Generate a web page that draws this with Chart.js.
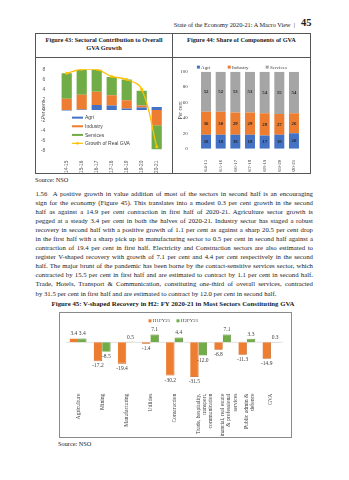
<!DOCTYPE html>
<html><head><meta charset="utf-8">
<script src="https://cdn.jsdelivr.net/npm/chart.js@4.4.0/dist/chart.umd.min.js"></script>
<style>
html,body{margin:0;padding:0;background:#fff;}
body{width:349px;height:480px;position:relative;overflow:hidden;font-family:"Liberation Serif","Times New Roman",serif;color:#1a1a1a;}
.abs{position:absolute;}
#hdr{left:120px;top:20.5px;width:175px;text-align:right;font-size:6.3px;white-space:nowrap;}
#pg{left:301px;top:17px;font-size:10.5px;font-weight:bold;}
#tbl{left:35px;top:33px;width:274px;height:139px;border:0.8px solid #555;}
#hline{left:35px;top:57px;width:275px;height:0;border-top:0.8px solid #555;}
#vline{left:172px;top:33px;width:0;height:140px;border-left:0.8px solid #555;}
.th{font-size:6.3px;font-weight:bold;text-align:center;line-height:8.5px;}
#t43{left:36px;top:35.5px;width:136px;}
#t44{left:173px;top:35.5px;width:137px;}
#c43w{left:36px;top:58px;width:136px;height:115px;}
#c44w{left:173px;top:58px;width:136px;height:114px;}
.src{font-size:6.3px;}
#para{left:35.5px;top:188.5px;width:277.5px;font-size:6.75px;line-height:9.1px;}
#para div{text-align:justify;text-align-last:justify;}
#para div.last{text-align-last:left;}
#t45{left:40px;top:300px;width:266px;text-align:center;font-size:6.8px;font-weight:bold;white-space:nowrap;}
#box45{left:59px;top:312px;width:231px;height:124px;border:0.8px solid #8a8a8a;}
#c45w{left:60px;top:313px;width:230px;height:123px;}
</style>
</head>
<body>
<div class="abs" id="hdr">State of the Economy 2020-21: A Macro View &nbsp;|</div>
<div class="abs" id="pg">45</div>
<div class="abs" id="tbl"></div>
<div class="abs" id="hline"></div>
<div class="abs" id="vline"></div>
<div class="abs th" id="t43">Figure 43: Sectoral Contribution to Overall<br>GVA Growth</div>
<div class="abs th" id="t44">Figure 44: Share of Components of GVA</div>
<div class="abs" id="c43w"><canvas id="c43" width="136" height="115"></canvas></div>
<div class="abs" id="c44w"><canvas id="c44" width="136" height="114"></canvas></div>
<div class="abs src" style="left:35px;top:175.5px;">Source: NSO</div>
<div class="abs" id="para">
<div>1.56 &nbsp;A positive growth in value addition of most of the sectors in second half is an encouraging</div>
<div>sign for the economy (Figure 45). This translates into a modest 0.3 per cent growth in the second</div>
<div>half as against a 14.9 per cent contraction in first half of 2020-21. Agriculture sector growth is</div>
<div>pegged at a steady 3.4 per cent in both the halves of 2020-21. Industry sector has staged a robust</div>
<div>recovery in second half with a positive growth of 1.1 per cent as against a sharp 20.5 per cent drop</div>
<div>in the first half with a sharp pick up in manufacturing sector to 0.5 per cent in second half against a</div>
<div>contraction of 19.4 per cent in first half. Electricity and Construction sectors are also estimated to</div>
<div>register V-shaped recovery with growth of 7.1 per cent and 4.4 per cent respectively in the second</div>
<div>half. The major brunt of the pandemic has been borne by the contact-sensitive services sector, which</div>
<div>contracted by 15.5 per cent in first half and are estimated to contract by 1.1 per cent in second half.</div>
<div>Trade, Hotels, Transport &amp; Communication, constituting one-third of overall services, contracted</div>
<div class="last">by 31.5 per cent in first half and are estimated to contract by 12.0 per cent in second half.</div>
</div>
<div class="abs" id="t45">Figure 45: V-shaped Recovery in H2: FY 2020-21 in Most Sectors Constituting GVA</div>
<div class="abs" id="box45"></div>
<div class="abs" id="c45w"><canvas id="c45" width="230" height="123"></canvas></div>
<div class="abs src" style="left:58px;top:439.5px;">Source: NSO</div>

<script>
// ---------- DATA ----------
const years = ['2014-15','2015-16','2016-17','2017-18','2018-19','2019-20','2020-21'];
// Figure 43: contributions to GVA growth (percentage points)
const agriContrib     = [-0.1, 0.1, 1.0, 0.9, 0.3, 0.5, 0.6];
const industryContrib = [ 2.2, 2.9, 2.6, 2.0, 1.6, 0.4, -3.0];
const servicesContrib = [ 5.0, 4.9, 4.3, 3.6, 4.1, 2.9, -4.7];
const gvaGrowth       = [ 7.2, 8.0, 8.0, 6.6, 6.0, 4.1, -7.2];
const contribTicks = {min:-8, max:8, step:2};
// Figure 44: shares (per cent)
const agriShare     = [18, 18, 18, 18, 17, 18, 20];
const industryShare = [30, 30, 29, 29, 29, 27, 26];
const servicesShare = [52, 52, 53, 53, 54, 55, 54];
const shareTicks = {min:0, max:100, step:10};
// Figure 45: growth by half-year
const sectors = [['Agriculture'],['Mining'],['Manufacturing'],['Utilities'],['Construction'],
  ['Trade, hospitality,','transport,','communication'],['Financial, real estate','& professional','services'],
  ['Public admin &','defence'],['GVA']];
const h1fy21 = [3.4, -17.2, -19.4, -1.4, -30.2, -31.5, -6.8, -11.3, -14.9];
const h2fy21 = [3.4,  -8.5,   0.5,  7.1,   4.4, -12.0,  7.1,   3.3,   0.3];

const BLUE='#4472C4', ORANGE='#ED7D31', GREEN='#70AD47', GREY='#A5A5A5', GOLD='#FFC000';
const SANS='"Liberation Sans", Arial, sans-serif';
const SERIF='"Liberation Serif", "Times New Roman", serif';
Chart.defaults.animation=false;
Chart.defaults.responsive=false;
Chart.defaults.devicePixelRatio=1;

function drawLegend(ctx, items, font){
  ctx.save();
  ctx.font=font; ctx.textBaseline='middle'; ctx.textAlign='left'; ctx.fillStyle='#404040';
  items.forEach(it=>{
    if(it.kind==='line'){
      ctx.strokeStyle=it.color; ctx.lineWidth=1.2;
      ctx.beginPath(); ctx.moveTo(it.x,it.y); ctx.lineTo(it.x+it.w,it.y); ctx.stroke();
      ctx.fillStyle=it.color; ctx.beginPath(); ctx.arc(it.x+it.w/2,it.y,1.4,0,Math.PI*2); ctx.fill();
    } else {
      ctx.fillStyle=it.color; ctx.fillRect(it.x,it.y-it.h/2,it.w,it.h);
    }
    ctx.fillStyle='#404040';
    ctx.fillText(it.text,it.x+it.w+it.gap,it.y+0.3);
  });
  ctx.restore();
}

// ---------- Figure 43 ----------
const legend43={id:'legend43',afterDraw(chart){
  const y=chart.scales.y, ca=chart.chartArea, x0=ca.left+12.8;
  const f='5px '+SANS;
  drawLegend(chart.ctx,[
    {kind:'bar',color:BLUE,text:'Agri',x:x0,y:y.getPixelForValue(-1.5),w:11,h:2,gap:2},
    {kind:'bar',color:ORANGE,text:'Industry',x:x0,y:y.getPixelForValue(-3.2),w:11,h:2,gap:2},
    {kind:'bar',color:GREEN,text:'Services',x:x0,y:y.getPixelForValue(-4.9),w:11,h:2,gap:2},
    {kind:'line',color:GOLD,text:'Growth of Real GVA',x:x0,y:y.getPixelForValue(-6.55),w:11,h:2,gap:2}
  ],f);
}};
new Chart(document.getElementById('c43'),{
  data:{labels:years,datasets:[
    {type:'line',label:'Growth of Real GVA',data:gvaGrowth,borderColor:GOLD,backgroundColor:GOLD,borderWidth:1.3,
     pointRadius:1.5,pointBackgroundColor:GOLD,pointBorderWidth:0,tension:0.4,stack:'line',order:0},
    {type:'bar',label:'Agri',data:agriContrib,backgroundColor:BLUE,stack:'s',order:1},
    {type:'bar',label:'Industry',data:industryContrib,backgroundColor:ORANGE,stack:'s',order:1},
    {type:'bar',label:'Services',data:servicesContrib,backgroundColor:GREEN,stack:'s',order:1}
  ]},
  options:{
    layout:{padding:{left:5,right:7.8,top:11.3,bottom:0}},
    plugins:{legend:{display:false},tooltip:{enabled:false}},
    datasets:{bar:{categoryPercentage:0.68,barPercentage:1}},
    scales:{
      x:{stacked:true,grid:{display:false},border:{display:false},
        ticks:{font:{size:4.8,family:SANS},color:'#595959',minRotation:90,maxRotation:90,padding:2,autoSkip:false},
        afterFit(s){s.height=22.3;}},
      y:{stacked:true,min:contribTicks.min,max:contribTicks.max,grid:{display:false},border:{display:false},
        ticks:{stepSize:contribTicks.step,font:{size:5,family:SANS},color:'#595959',padding:6},
        title:{display:true,text:'Per cent',font:{size:5,family:SANS},color:'#595959',padding:0},
        afterFit(s){s.width=18.2;}}
    }
  },
  plugins:[legend43]
});

// ---------- Figure 44 ----------
const labels44={id:'labels44',afterDatasetsDraw(chart){
  const ctx=chart.ctx; ctx.save();
  ctx.font='bold 4.8px '+SERIF; ctx.textAlign='center'; ctx.textBaseline='middle';
  chart.data.datasets.forEach((ds,i)=>{
    chart.getDatasetMeta(i).data.forEach((el,j)=>{
      ctx.fillStyle = '#262626';
      ctx.fillText(String(ds.data[j]),el.x,(el.y+el.base)/2);
    });
  });
  ctx.restore();
}, afterDraw(chart){
  const ca=chart.chartArea, y=ca.top-4.6, f='5px '+SERIF;
  drawLegend(chart.ctx,[
    {kind:'bar',color:BLUE,text:'Agri',x:ca.left-1.8,y,w:3,h:3,gap:1.2},
    {kind:'bar',color:ORANGE,text:'Industry',x:ca.left+29,y,w:3,h:3,gap:1.2},
    {kind:'bar',color:GREY,text:'Services',x:ca.left+67,y,w:3,h:3,gap:1.2}
  ],f);
}};
new Chart(document.getElementById('c44'),{
  type:'bar',
  data:{labels:years,datasets:[
    {label:'Agri',data:agriShare,backgroundColor:BLUE},
    {label:'Industry',data:industryShare,backgroundColor:ORANGE},
    {label:'Services',data:servicesShare,backgroundColor:GREY}
  ]},
  options:{
    layout:{padding:{left:4,right:7.7,top:13.7,bottom:0}},
    plugins:{legend:{display:false},tooltip:{enabled:false}},
    datasets:{bar:{categoryPercentage:0.68,barPercentage:1}},
    scales:{
      x:{stacked:true,grid:{display:false},border:{display:false},
        ticks:{font:{size:5,family:SERIF},color:'#404040',minRotation:90,maxRotation:90,padding:3,autoSkip:false},
        afterFit(s){s.height=23.3;}},
      y:{stacked:true,min:shareTicks.min,max:shareTicks.max,grid:{display:false},border:{display:false},
        ticks:{stepSize:shareTicks.step,font:{size:5,family:SERIF},color:'#404040',padding:3},
        title:{display:true,text:'Per cent',font:{size:5.5,family:SERIF},color:'#404040',padding:0},
        afterFit(s){s.width=21.7;}}
    }
  },
  plugins:[labels44]
});

// ---------- Figure 45 ----------
const plugin45={id:'plugin45',
 beforeDatasetsDraw(chart){
  const ctx=chart.ctx, ca=chart.chartArea, y0=chart.scales.y.getPixelForValue(0);
  ctx.save(); ctx.strokeStyle='#d9d9d9'; ctx.lineWidth=0.8;
  ctx.beginPath(); ctx.moveTo(ca.left,y0); ctx.lineTo(ca.right,y0); ctx.stroke(); ctx.restore();
 },
 afterDatasetsDraw(chart){
  const ctx=chart.ctx; ctx.save();
  ctx.font='5.5px '+SERIF; ctx.textAlign='center'; ctx.fillStyle='#404040';
  chart.data.datasets.forEach((ds,i)=>{
    chart.getDatasetMeta(i).data.forEach((el,j)=>{
      const v=ds.data[j];
      if(v>=0){ctx.textBaseline='bottom'; ctx.fillText(v.toFixed(1),el.x,el.y-1.8);}
      else {ctx.textBaseline='top'; ctx.fillText(v.toFixed(1),el.x,el.y+2);}
    });
  });
  ctx.restore();
 },
 afterDraw(chart){
  drawLegend(chart.ctx,[
    {kind:'bar',color:ORANGE,text:'H1FY21',x:88.5,y:7.8,w:3,h:3,gap:1.3},
    {kind:'bar',color:GREEN,text:'H2FY21',x:116.5,y:7.8,w:3,h:3,gap:1.3}
  ],'5px '+SERIF);
 }
};
new Chart(document.getElementById('c45'),{
  type:'bar',
  data:{labels:sectors,datasets:[
    {label:'H1FY21',data:h1fy21,backgroundColor:ORANGE,borderColor:'#C55A11',borderWidth:{right:0.8,bottom:0.8,top:0,left:0}},
    {label:'H2FY21',data:h2fy21,backgroundColor:GREEN,borderColor:'#548235',borderWidth:{right:0.8,top:0.8,bottom:0,left:0}}
  ]},
  options:{
    layout:{padding:{left:6,right:7,top:20.5,bottom:0}},
    plugins:{legend:{display:false},tooltip:{enabled:false}},
    datasets:{bar:{categoryPercentage:0.7,barPercentage:1}},
    scales:{
      x:{grid:{display:false},border:{display:false},
        ticks:{font:{size:5.6,family:SERIF,lineHeight:1.1},color:'#404040',minRotation:90,maxRotation:90,padding:7,autoSkip:false},
        afterFit(s){s.height=57.4;}},
      y:{display:false,min:-33,max:8}
    }
  },
  plugins:[plugin45]
});
</script>
</body></html>
